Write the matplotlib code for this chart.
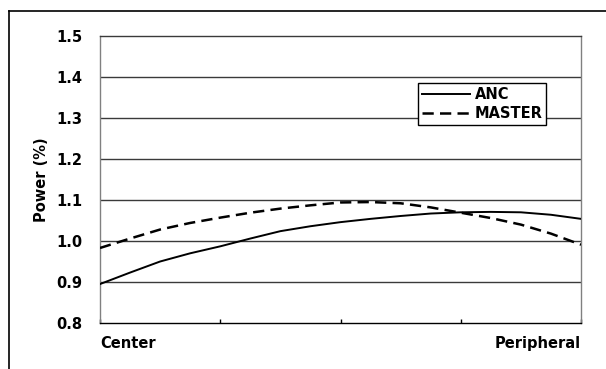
import matplotlib
matplotlib.use("Agg")
import matplotlib.pyplot as plt
from matplotlib.lines import Line2D

# positions along the radius (Center -> Peripheral)
positions = [0, 0.25, 0.5, 0.75, 1.0, 1.25, 1.5, 1.75, 2.0,
             2.25, 2.5, 2.75, 3.0, 3.25, 3.5, 3.75, 4.0]
anc = [0.895, 0.923, 0.950, 0.970, 0.987, 1.006, 1.024, 1.036, 1.046,
       1.054, 1.061, 1.067, 1.070, 1.071, 1.070, 1.064, 1.054]
master = [0.983, 1.006, 1.028, 1.044, 1.057, 1.069, 1.079, 1.087, 1.094,
          1.095, 1.092, 1.082, 1.069, 1.056, 1.040, 1.018, 0.991]

y_ticks = [0.8, 0.9, 1.0, 1.1, 1.2, 1.3, 1.4, 1.5]
x_ticks = [0, 1, 2, 3, 4]
end_labels = ["Center", "Peripheral"]

plt.rcParams["font.family"] = ["DejaVu Sans"]
plt.rcParams["font.weight"] = "bold"

fig = plt.figure(figsize=(6.06, 3.69), dpi=100)
ax = fig.add_axes([100 / 606, 1 - 323 / 369, 481 / 606, 287 / 369])

# outer frame (top and left edges only visible in the reference)
fig.add_artist(Line2D([9 / 606, 1.0], [1 - 11 / 369, 1 - 11 / 369],
                      transform=fig.transFigure, color="black", lw=1.2))
fig.add_artist(Line2D([9 / 606, 9 / 606], [0, 1 - 11 / 369],
                      transform=fig.transFigure, color="black", lw=1.2))

for y in y_ticks[1:-1]:
    ax.axhline(y, color="#3a3a3a", lw=1.0, zorder=1)

ax.plot(positions, anc, color="black", lw=1.4, label="ANC", zorder=3)
ax.plot(positions, master, color="black", lw=1.8, dashes=(4.5, 2.5),
        label="MASTER", zorder=3)

ax.set_xlim(0, 4)
ax.set_ylim(0.8, 1.5)
ax.set_yticks(y_ticks)
ax.set_yticklabels([f"{v:.1f}" for v in y_ticks], fontsize=10.5, fontweight="bold")
ax.set_xticks(x_ticks)
ax.set_xticklabels([])
ax.tick_params(axis="x", direction="in", length=3, width=1, color="black")
ax.tick_params(axis="y", length=0, pad=13)

ax.text(0, -0.045, end_labels[0], transform=ax.transAxes, ha="left", va="top",
        fontsize=10.5, fontweight="bold")
ax.text(1, -0.045, end_labels[1], transform=ax.transAxes, ha="right", va="top",
        fontsize=10.5, fontweight="bold")

ax.set_ylabel("Power (%)", fontsize=10.5, fontweight="bold", labelpad=5)

ax.spines["top"].set_color("#3a3a3a")
for side in ("right", "left"):
    ax.spines[side].set_color("#808080")
for side in ("top", "right", "left", "bottom"):
    ax.spines[side].set_linewidth(1.0)
ax.spines["bottom"].set_color("black")

leg = ax.legend(loc="upper left", bbox_to_anchor=(0.661, 0.836),
                prop={"weight": "bold", "size": 10.5}, frameon=True, fancybox=False,
                edgecolor="black", framealpha=1, borderpad=0.25, labelspacing=0.3,
                handlelength=3.3, handletextpad=0.35, borderaxespad=0)
leg.get_frame().set_linewidth(1.0)
leg.set_zorder(5)

fig.savefig("out.png", dpi=100, facecolor="white")
